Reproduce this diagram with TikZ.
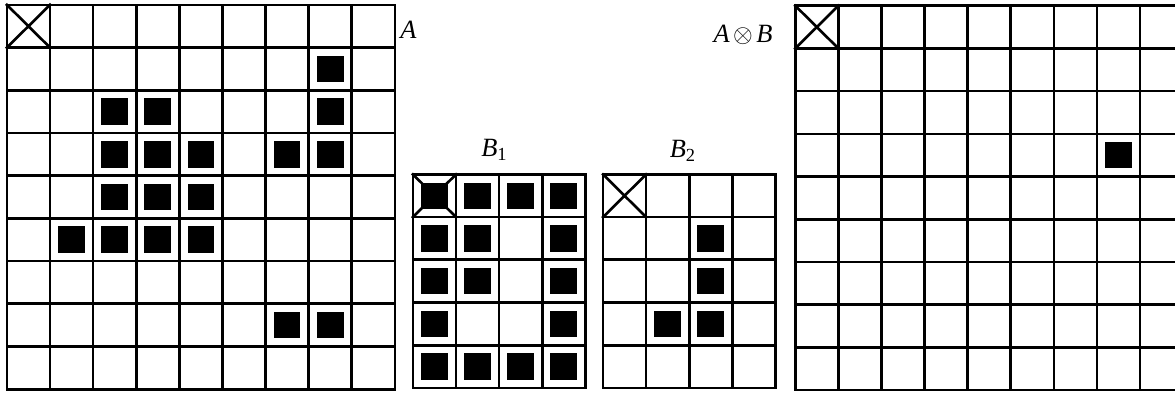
\documentclass[tikz,border=0pt]{standalone}
\usepackage{fontspec}
\setmainfont{Liberation Serif}
\begin{document}
\begin{tikzpicture}[x=0.862cm, y=0.854cm,
    gridline/.style={line width=1.5pt, line cap=rect},
    gridname/.style={inner sep=0pt, font=\fontsize{15}{17}\selectfont\itshape}]

    \def\gap{0.19}

    % Page size
    \useasboundingbox (0,0) rectangle (27.26,9.274);
    \clip (0,0) rectangle (27.26,9.274);

    % Matrix A
    \begin{scope}[shift={(0.16,0.16)}]
        \def\nrows{9}
        \foreach \i in {0,...,9}
            \draw[gridline] (\i,0) -- (\i,9);
        \foreach \j in {0,...,9}
            \draw[gridline] (0,\j) -- (9,\j);
        \draw[gridline] (0,8) -- (1,9) (0,9) -- (1,8);
        \foreach \c/\r in {7/1, 2/2, 3/2, 7/2, 2/3, 3/3, 4/3, 6/3, 7/3,
                           2/4, 3/4, 4/4, 1/5, 2/5, 3/5, 4/5, 6/7, 7/7}
            \fill (\c+\gap,\nrows-1-\r+\gap) rectangle (\c+1-\gap,\nrows-\r-\gap);
    \end{scope}
    \node[gridname, anchor=base west] (labA) at (9.28,8.38) {A};

    % Mask B1
    \begin{scope}[shift={(9.58,0.19)}]
        \def\nrows{5}
        \foreach \i in {0,...,4}
            \draw[gridline] (\i,0) -- (\i,5);
        \foreach \j in {0,...,5}
            \draw[gridline] (0,\j) -- (4,\j);
        \draw[gridline] (0,4) -- (1,5) (0,5) -- (1,4);
        \foreach \c/\r in {0/0, 1/0, 2/0, 3/0, 0/1, 1/1, 3/1, 0/2, 1/2, 3/2,
                           0/3, 3/3, 0/4, 1/4, 2/4, 3/4}
            \fill (\c+\gap,\nrows-1-\r+\gap) rectangle (\c+1-\gap,\nrows-\r-\gap);
    \end{scope}
    \node[gridname, anchor=base west] (labBone) at (11.16,5.60) {B\textsubscript{\upshape 1}};

    % Mask B2
    \begin{scope}[shift={(13.99,0.19)}]
        \def\nrows{5}
        \foreach \i in {0,...,4}
            \draw[gridline] (\i,0) -- (\i,5);
        \foreach \j in {0,...,5}
            \draw[gridline] (0,\j) -- (4,\j);
        \draw[gridline] (0,4) -- (1,5) (0,5) -- (1,4);
        \foreach \c/\r in {2/1, 2/2, 1/3, 2/3}
            \fill (\c+\gap,\nrows-1-\r+\gap) rectangle (\c+1-\gap,\nrows-\r-\gap);
    \end{scope}
    \node[gridname, anchor=base west] (labBtwo) at (15.53,5.58) {B\textsubscript{\upshape 2}};

    % Result A (x) B
    \begin{scope}[shift={(18.45,0.14)}]
        \def\nrows{9}
        \foreach \i in {0,...,9}
            \draw[gridline] (\i,0) -- (\i,9);
        \foreach \j in {0,...,9}
            \draw[gridline] (0,\j) -- (9,\j);
        \draw[gridline] (0,8) -- (1,9) (0,9) -- (1,8);
        \foreach \c/\r in {7/3}
            \fill (\c+\gap,\nrows-1-\r+\gap) rectangle (\c+1-\gap,\nrows-\r-\gap);
    \end{scope}
    \node[gridname, anchor=base east] (labAB) at (17.93,8.29) {A\kern2pt$\otimes$\kern2pt B};

\end{tikzpicture}
\end{document}
